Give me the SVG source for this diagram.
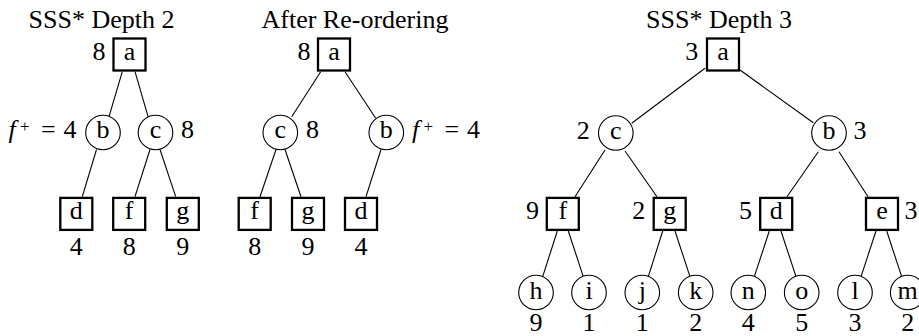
<svg xmlns="http://www.w3.org/2000/svg" width="919" height="336" viewBox="0 0 919 336" font-family="'Liberation Serif', Tinos, 'Times New Roman', 'DejaVu Serif', serif" font-size="26">
<style>
text{font-family:"Liberation Serif",Tinos,"Times New Roman","DejaVu Serif",serif;font-size:26px;fill:#000}
.m{text-anchor:middle}
.box{fill:#fff;stroke:#000;stroke-width:2.3}
.cir{fill:#fff;stroke:#000;stroke-width:1.1}
.edge line{stroke:#000;stroke-width:1.1}
.sup{font-size:17px}
</style>
<rect width="919" height="336" fill="#fff"/>
<text class="m" x="101.5" y="27.5">SSS* Depth 2</text>
<text class="m" x="355" y="27.5">After Re-ordering</text>
<text class="m" x="719" y="27.5">SSS* Depth 3</text>
<g class="edge" id="connectors">
<line x1="122.3" y1="71.7" x2="109" y2="116.7"/>
<line x1="135" y1="71.7" x2="148.3" y2="117.3"/>
<line x1="96.5" y1="149.5" x2="82.3" y2="196.7"/>
<line x1="150" y1="149.5" x2="135" y2="196.7"/>
<line x1="160" y1="149.5" x2="175.7" y2="196.7"/>
<line x1="320.7" y1="71.7" x2="291.7" y2="116.7"/>
<line x1="345" y1="71.7" x2="375.7" y2="118.3"/>
<line x1="276" y1="149.5" x2="260" y2="196.7"/>
<line x1="285" y1="149.5" x2="301" y2="196.7"/>
<line x1="381" y1="149.5" x2="366" y2="196.7"/>
<line x1="705" y1="68.3" x2="631.7" y2="123.3"/>
<line x1="740" y1="70" x2="813.3" y2="122.7"/>
<line x1="605" y1="150" x2="575" y2="196.7"/>
<line x1="625" y1="151" x2="657" y2="196.7"/>
<line x1="818.3" y1="151.7" x2="787" y2="196.7"/>
<line x1="839" y1="151.7" x2="868" y2="196.7"/>
<line x1="557.3" y1="231" x2="542.7" y2="276.7"/>
<line x1="568.3" y1="231" x2="583.3" y2="276.7"/>
<line x1="662.7" y1="231" x2="648.3" y2="276.7"/>
<line x1="675" y1="231" x2="690" y2="276.7"/>
<line x1="769.3" y1="231" x2="754.3" y2="276.7"/>
<line x1="781" y1="231" x2="796" y2="276.7"/>
<line x1="876" y1="231" x2="861" y2="276.7"/>
<line x1="886.7" y1="231" x2="901.7" y2="276.7"/>
</g>
<!-- Panel 1 -->
<g id="p1-a"><rect class="box" x="113.5" y="38.5" width="32" height="32"/><text class="m" x="129.5" y="60">a</text><text class="m" x="99" y="60">8</text></g>
<g id="p1-b"><circle class="cir" cx="103" cy="132.5" r="17.3"/><text class="m" x="103" y="138">b</text>
<text y="138"><tspan x="8.5" font-style="italic">f</tspan><tspan class="sup" x="20" y="131.5">+</tspan><tspan x="41" y="138">=</tspan><tspan x="63.5">4</tspan></text></g>
<g id="p1-c"><circle class="cir" cx="155.5" cy="132.5" r="17.3"/><text class="m" x="155.5" y="138">c</text><text class="m" x="187.5" y="138">8</text></g>
<g id="p1-d"><rect class="box" x="60.3" y="197.9" width="32" height="32"/><text class="m" x="76.3" y="219">d</text><text class="m" x="76.3" y="255">4</text></g>
<g id="p1-f"><rect class="box" x="113.2" y="197.9" width="32" height="32"/><text class="m" x="129.2" y="219">f</text><text class="m" x="129.2" y="255">8</text></g>
<g id="p1-g"><rect class="box" x="166.8" y="197.9" width="32" height="32"/><text class="m" x="182.8" y="219">g</text><text class="m" x="182.8" y="255">9</text></g>
<!-- Panel 2 -->
<g id="p2-a"><rect class="box" x="318" y="38.5" width="32" height="32"/><text class="m" x="334" y="60">a</text><text class="m" x="304" y="60">8</text></g>
<g id="p2-c"><circle class="cir" cx="280.3" cy="132.5" r="17.3"/><text class="m" x="280.3" y="138">c</text><text class="m" x="312.5" y="138">8</text></g>
<g id="p2-b"><circle class="cir" cx="386.3" cy="132.5" r="17.3"/><text class="m" x="386.3" y="138">b</text>
<text y="138"><tspan x="412" font-style="italic">f</tspan><tspan class="sup" x="423.5" y="131.5">+</tspan><tspan x="444.5" y="138">=</tspan><tspan x="467">4</tspan></text></g>
<g id="p2-f"><rect class="box" x="238.7" y="197.9" width="32" height="32"/><text class="m" x="254.7" y="219">f</text><text class="m" x="254.7" y="255">8</text></g>
<g id="p2-g"><rect class="box" x="292" y="197.9" width="32" height="32"/><text class="m" x="308" y="219">g</text><text class="m" x="308" y="255">9</text></g>
<g id="p2-d"><rect class="box" x="345" y="197.9" width="32" height="32"/><text class="m" x="361" y="219">d</text><text class="m" x="361" y="255">4</text></g>
<!-- Panel 3 -->
<g id="p3-a"><rect class="box" x="707" y="38.5" width="32" height="32"/><text class="m" x="723" y="60">a</text><text class="m" x="691.7" y="60">3</text></g>
<g id="p3-c"><circle class="cir" cx="615.8" cy="133" r="17.3"/><text class="m" x="615.8" y="138.5">c</text><text class="m" x="583.3" y="138.5">2</text></g>
<g id="p3-b"><circle class="cir" cx="829" cy="133" r="17.3"/><text class="m" x="829" y="138.5">b</text><text class="m" x="860" y="138.5">3</text></g>
<g id="p3-f"><rect class="box" x="546.8" y="197.9" width="32" height="32"/><text class="m" x="562.8" y="219">f</text><text class="m" x="532.5" y="219">9</text></g>
<g id="p3-g"><rect class="box" x="653.7" y="197.9" width="32" height="32"/><text class="m" x="669.7" y="219">g</text><text class="m" x="638.8" y="219">2</text></g>
<g id="p3-d"><rect class="box" x="760.2" y="197.9" width="32" height="32"/><text class="m" x="776.2" y="219">d</text><text class="m" x="745.5" y="219">5</text></g>
<g id="p3-e"><rect class="box" x="866" y="197.9" width="32" height="32"/><text class="m" x="882" y="219">e</text><text class="m" x="911" y="219">3</text></g>
<g id="p3-h"><circle class="cir" cx="536" cy="292.5" r="17.3"/><text class="m" x="536" y="298.5">h</text><text class="m" x="536" y="330.5">9</text></g>
<g id="p3-i"><circle class="cir" cx="589" cy="292.5" r="17.3"/><text class="m" x="589" y="298.5">i</text><text class="m" x="589" y="330.5">1</text></g>
<g id="p3-j"><circle class="cir" cx="642.3" cy="292.5" r="17.3"/><text class="m" x="642.3" y="298.5">j</text><text class="m" x="642.3" y="330.5">1</text></g>
<g id="p3-k"><circle class="cir" cx="695.7" cy="292.5" r="17.3"/><text class="m" x="695.7" y="298.5">k</text><text class="m" x="695.7" y="330.5">2</text></g>
<g id="p3-n"><circle class="cir" cx="748.3" cy="292.5" r="17.3"/><text class="m" x="748.3" y="298.5">n</text><text class="m" x="748.3" y="330.5">4</text></g>
<g id="p3-o"><circle class="cir" cx="801.7" cy="292.5" r="17.3"/><text class="m" x="801.7" y="298.5">o</text><text class="m" x="801.7" y="330.5">5</text></g>
<g id="p3-l"><circle class="cir" cx="855" cy="292.5" r="17.3"/><text class="m" x="855" y="298.5">l</text><text class="m" x="855" y="330.5">3</text></g>
<g id="p3-m"><circle class="cir" cx="907.7" cy="292.5" r="17.3"/><text class="m" x="907.7" y="298.5">m</text><text class="m" x="907.7" y="330.5">2</text></g>
</svg>
